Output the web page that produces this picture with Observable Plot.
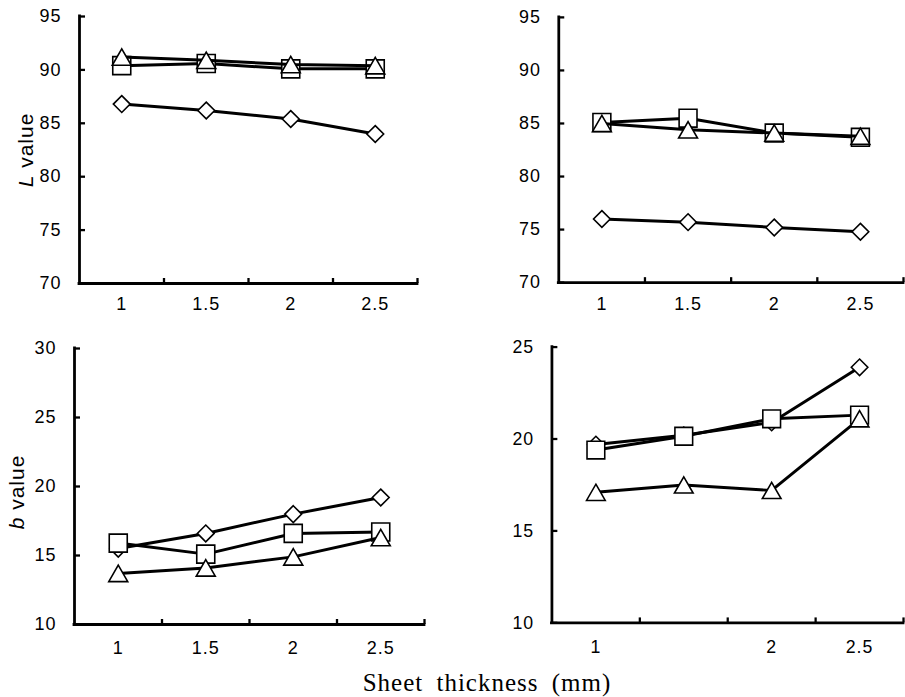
<!DOCTYPE html>
<html><head><meta charset="utf-8">
<script src="https://cdn.jsdelivr.net/npm/d3@7"></script>
<script src="https://cdn.jsdelivr.net/npm/@observablehq/plot@0.6"></script>
<style>
body{margin:0;background:#fff;}
#wrap{position:relative;width:905px;height:697px;overflow:hidden;background:#fff;}
.panel{position:absolute;}
.ylab{position:absolute;font-family:"Liberation Sans",Arial,sans-serif;font-size:21px;letter-spacing:1px;line-height:1;white-space:nowrap;transform:translate(-50%,-50%) rotate(-90deg);color:#000;}
.xtitle{position:absolute;font-family:"Liberation Serif","Times New Roman",serif;font-size:25px;letter-spacing:1px;word-spacing:6px;white-space:nowrap;transform:translateX(-50%);line-height:1;color:#000;}
</style></head>
<body><div id="wrap"></div>
<script>
// Data
const thickness = [1, 1.5, 2, 2.5];
const xDomain = [0.75, 2.75];
const xBounds = [1.25, 1.75, 2.25, 2.75];

const lTopLeftDiamond  = [86.8, 86.2, 85.4, 84.0];
const lTopLeftSquare   = [90.4, 90.6, 90.1, 90.1];
const lTopLeftTriangle = [91.2, 90.9, 90.5, 90.4];

const lTopRightDiamond  = [76.0, 75.7, 75.2, 74.8];
const lTopRightSquare   = [85.1, 85.5, 84.1, 83.7];
const lTopRightTriangle = [85.0, 84.4, 84.1, 83.8];

const bBotLeftDiamond  = [15.5, 16.6, 18.0, 19.2];
const bBotLeftSquare   = [15.9, 15.1, 16.6, 16.7];
const bBotLeftTriangle = [13.7, 14.1, 14.9, 16.3];

const bBotRightDiamond  = [19.7, 20.2, 20.9, 23.9];
const bBotRightSquare   = [19.4, 20.15, 21.1, 21.3];
const bBotRightTriangle = [17.1, 17.5, 17.2, 21.1];

const lTicks = [70, 75, 80, 85, 90, 95];
const bLeftTicks = [10, 15, 20, 25, 30];
const bRightTicks = [10, 15, 20, 25];
const xTicksFull = [1, 1.5, 2, 2.5];
const xTicksPartial = [1, 2, 2.5];

// Symbols (white-filled outline markers)
const symSquare = {draw(ctx, size){const r=Math.sqrt(size/Math.PI);ctx.moveTo(-r,-r);ctx.lineTo(r,-r);ctx.lineTo(r,r);ctx.lineTo(-r,r);ctx.closePath();}};
const symDiamond = {draw(ctx, size){const r=Math.sqrt(size/Math.PI);ctx.moveTo(0,-r);ctx.lineTo(r,0);ctx.lineTo(0,r);ctx.lineTo(-r,0);ctx.closePath();}};
const symTriangle = {draw(ctx, size){const r=Math.sqrt(size/Math.PI);const h=Math.sqrt(3)*r;ctx.moveTo(0,-h/2);ctx.lineTo(r,h/2);ctx.lineTo(-r,h/2);ctx.closePath();}};

const wrap = document.getElementById("wrap");
const fmt = d => String(d);

function panel({left, top, width, height, mt, mb, ml, mr, ydomain, yticks, xticks, xpad, series}) {
  const frameW = width - ml - mr, frameH = height - mt - mb;
  const marks = [
    Plot.tickY(yticks, {y: d => d, insetRight: frameW - 6, strokeWidth: 2.3}),
    Plot.tickX(xBounds, {x: d => d, insetTop: frameH - 5, strokeWidth: 2.3}),
    Plot.ruleX([xDomain[0]], {y1: ydomain[0], y2: ydomain[1], strokeWidth: 2.8, strokeLinecap: "square"}),
    Plot.ruleY([ydomain[0]], {x1: xDomain[0], x2: xDomain[1], strokeWidth: 2.8, strokeLinecap: "square"}),
    Plot.axisY(yticks, {tickSize: 0, tickPadding: 18, label: null, tickFormat: fmt}),
    Plot.axisX(xticks, {tickSize: 0, tickPadding: xpad, label: null, tickFormat: fmt})
  ];
  for (const s of series) {
    const data = thickness.map((x, i) => ({x, y: s.values[i]}));
    marks.push(Plot.line(data, {x: "x", y: "y", stroke: "black", strokeWidth: 3}));
    marks.push(Plot.dot(data, {x: "x", y: "y", symbol: s.symbol, r: s.r, fill: "white", stroke: "black", strokeWidth: 1.6}));
  }
  const chart = Plot.plot({
    width, height, marginTop: mt, marginBottom: mb, marginLeft: ml, marginRight: mr,
    x: {domain: xDomain}, y: {domain: ydomain},
    style: {fontFamily: "'Liberation Sans', Arial, sans-serif", fontSize: "18px", letterSpacing: "1px", color: "black", background: "transparent", overflow: "visible"},
    marks
  });
  const div = document.createElement("div");
  div.className = "panel";
  div.style.left = left + "px";
  div.style.top = top + "px";
  div.appendChild(chart);
  wrap.appendChild(div);
}

const mk = (d, s, t) => [
  {values: d, symbol: symDiamond, r: 8.4},
  {values: s, symbol: symSquare, r: 9},
  {values: t, symbol: symTriangle, r: 9.5}
];

panel({left: 0, top: 0, width: 450, height: 320, mt: 16, mb: 37, ml: 79, mr: 33,
  ydomain: [70, 95], yticks: lTicks, xticks: xTicksFull, xpad: 14,
  series: mk(lTopLeftDiamond, lTopLeftSquare, lTopLeftTriangle)});
panel({left: 450, top: 0, width: 458, height: 320, mt: 17, mb: 36, ml: 109, mr: 2,
  ydomain: [70, 95], yticks: lTicks, xticks: xTicksFull, xpad: 15,
  series: mk(lTopRightDiamond, lTopRightSquare, lTopRightTriangle)});
panel({left: 0, top: 320, width: 450, height: 340, mt: 28, mb: 36, ml: 74, mr: 26,
  ydomain: [10, 30], yticks: bLeftTicks, xticks: xTicksFull, xpad: 17,
  series: mk(bBotLeftDiamond, bBotLeftSquare, bBotLeftTriangle)});
panel({left: 450, top: 320, width: 462, height: 340, mt: 27, mb: 33, ml: 103, mr: 2,
  ydomain: [10, 25], yticks: bRightTicks, xticks: xTicksPartial, xpad: 18,
  series: mk(bBotRightDiamond, bBotRightSquare, bBotRightTriangle)});

function addEl(cls, html, x, y) {
  const el = document.createElement("div");
  el.className = cls;
  el.innerHTML = html;
  el.style.left = x + "px";
  el.style.top = y + "px";
  wrap.appendChild(el);
}
addEl("ylab", "<i>L</i> value", 25, 150);
addEl("ylab", "<i>b</i> value", 16, 492);
addEl("xtitle", "Sheet thickness (mm)", 487, 670);
</script>
</body></html>
